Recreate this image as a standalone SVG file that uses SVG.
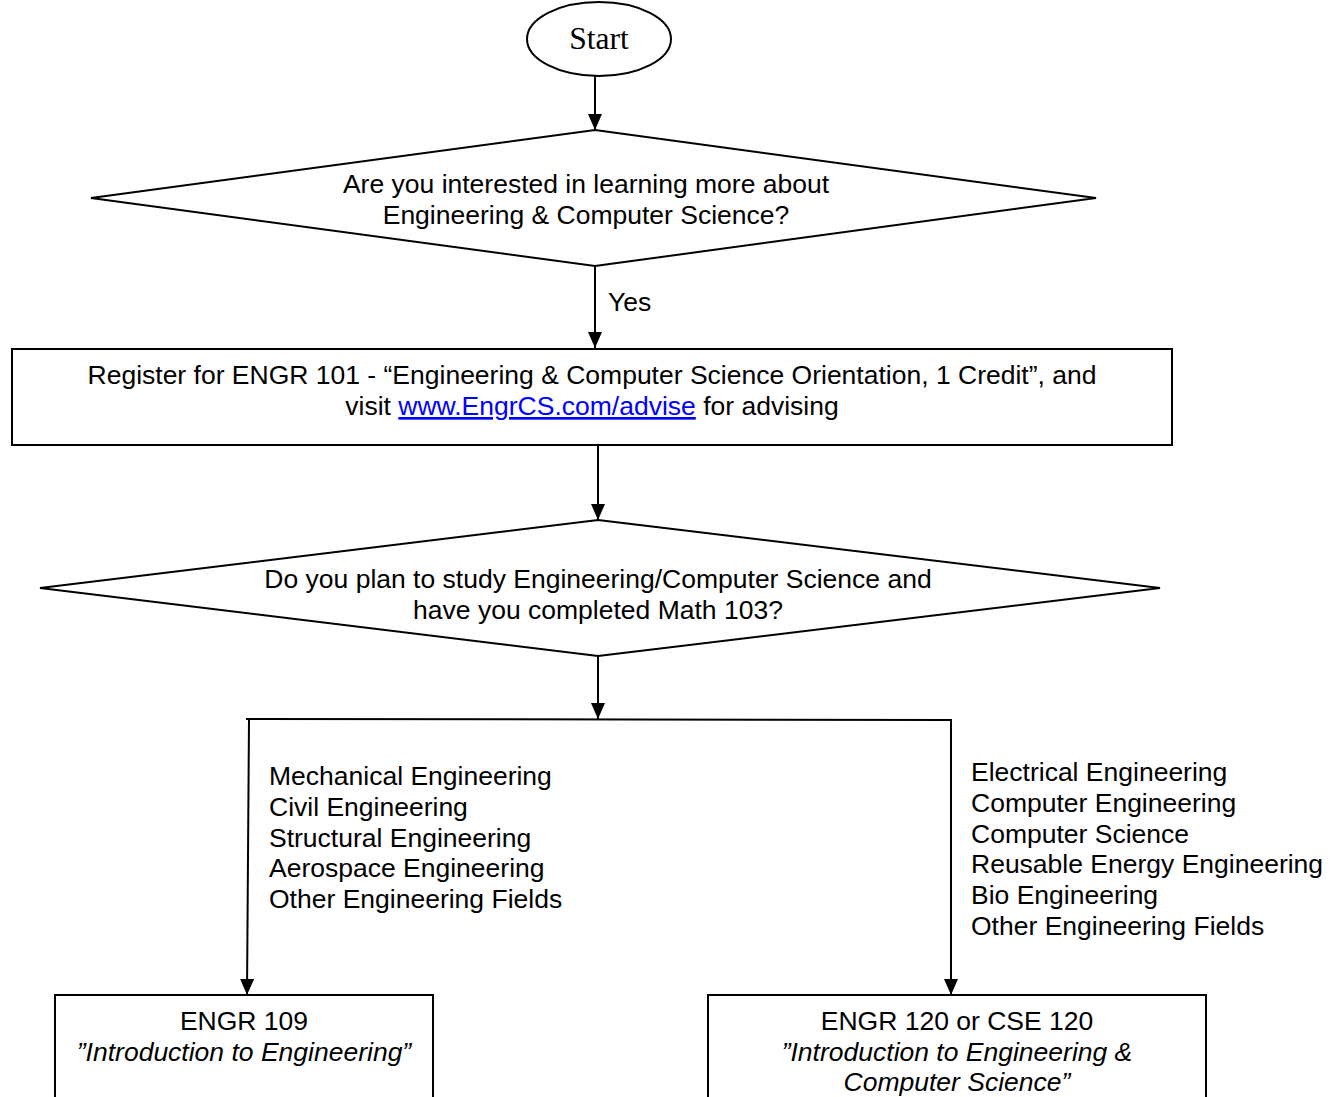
<svg xmlns="http://www.w3.org/2000/svg" width="1342" height="1097" viewBox="0 0 1342 1097">
<defs>
<marker id="ah" viewBox="0 0 16 14" refX="16" refY="7" markerWidth="16" markerHeight="14" markerUnits="userSpaceOnUse" orient="auto">
<path d="M0,0 L16,7 L0,14 Z" fill="#000"/>
</marker>
</defs>
<style>
.s{fill:#fff;stroke:#000;stroke-width:2}
.t{font-family:"Liberation Sans",Arial,sans-serif;font-size:26.5px;fill:#000}
.c{text-anchor:middle}
.i{font-style:italic}
.l{fill:none;stroke:#000;stroke-width:2}
</style>
<rect width="1342" height="1097" fill="#fff"/>
<g id="start">
<ellipse class="s" cx="599" cy="39" rx="72" ry="37"/>
<text class="c" x="599" y="49" style="font-family:'Liberation Serif','Times New Roman',serif;font-size:31.5px">Start</text>
</g>
<g id="q1">
<polygon class="s" points="595,130 1096,198 595,266 91,198"/>
<text class="t c" x="586" y="193">Are you interested in learning more about</text>
<text class="t c" x="586" y="224">Engineering &amp; Computer Science?</text>
</g>
<g id="register">
<rect class="s" x="12" y="349" width="1160" height="96"/>
<text class="t c" x="592" y="384">Register for ENGR 101 - “Engineering &amp; Computer Science Orientation, 1 Credit”, and</text>
<text class="t c" x="592" y="415">visit <tspan fill="#00f" text-decoration="underline">www.EngrCS.com/advise</tspan> for advising</text>
</g>
<g id="q2">
<polygon class="s" points="598,520 1160,588 598,656 40,588"/>
<text class="t c" x="598" y="588">Do you plan to study Engineering/Computer Science and</text>
<text class="t c" x="598" y="619">have you completed Math 103?</text>
</g>
<g id="listLeft">
<text class="t" x="269" y="785">Mechanical Engineering</text>
<text class="t" x="269" y="816">Civil Engineering</text>
<text class="t" x="269" y="847">Structural Engineering</text>
<text class="t" x="269" y="877">Aerospace Engineering</text>
<text class="t" x="269" y="908">Other Engineering Fields</text>
</g>
<g id="listRight">
<text class="t" x="971" y="781">Electrical Engineering</text>
<text class="t" x="971" y="812">Computer Engineering</text>
<text class="t" x="971" y="843">Computer Science</text>
<text class="t" x="971" y="873">Reusable Energy Engineering</text>
<text class="t" x="971" y="904">Bio Engineering</text>
<text class="t" x="971" y="935">Other Engineering Fields</text>
</g>
<g id="engr109">
<rect class="s" x="55" y="995" width="378" height="120"/>
<text class="t c" x="244" y="1030">ENGR 109</text>
<text class="t c i" x="244" y="1061">”Introduction to Engineering”</text>
</g>
<g id="engr120">
<rect class="s" x="708" y="995" width="498" height="120"/>
<text class="t c" x="957" y="1030">ENGR 120 or CSE 120</text>
<text class="t c i" x="957" y="1061">”Introduction to Engineering &amp;</text>
<text class="t c i" x="957" y="1091">Computer Science”</text>
</g>
<g id="connectors">
<line class="l" x1="595" y1="76" x2="595" y2="130" marker-end="url(#ah)"/>
<line class="l" x1="595" y1="266" x2="595" y2="348" marker-end="url(#ah)"/>
<text class="t" x="608" y="311">Yes</text>
<line class="l" x1="598" y1="445" x2="598" y2="520" marker-end="url(#ah)"/>
<line class="l" x1="598" y1="656" x2="598" y2="719" marker-end="url(#ah)"/>
<line class="l" x1="246" y1="719" x2="951" y2="720"/>
<line class="l" x1="249" y1="719" x2="247" y2="995" marker-end="url(#ah)"/>
<line class="l" x1="951" y1="719" x2="951" y2="995" marker-end="url(#ah)"/>
</g>
</svg>
